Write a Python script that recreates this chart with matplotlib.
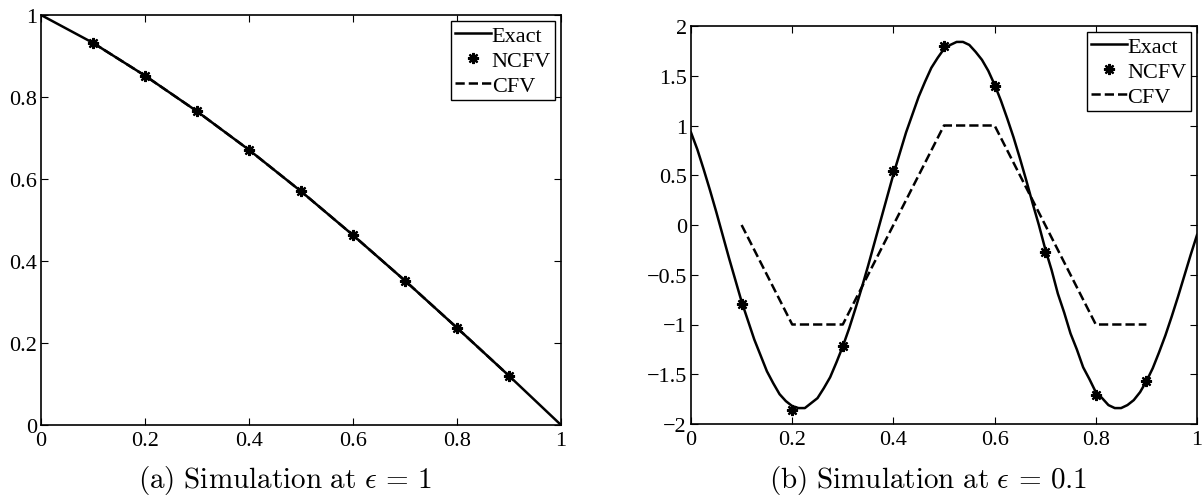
import numpy as np
import matplotlib
matplotlib.use("Agg")
import matplotlib.pyplot as plt

plt.rcParams['font.family'] = ['Liberation Serif', 'DejaVu Serif']
plt.rcParams['mathtext.fontset'] = 'cm'

# ---- panel (a): epsilon = 1 ----
xa_exact = [0.0, 0.1, 0.2, 0.3, 0.4, 0.5, 0.6, 0.7, 0.8, 0.9, 1.0]
ya_exact = [1.0, 0.932, 0.852, 0.765, 0.671, 0.570, 0.463, 0.352, 0.237, 0.120, 0.0]
xa_nodes = [0.1, 0.2, 0.3, 0.4, 0.5, 0.6, 0.7, 0.8, 0.9]
ya_ncfv = [0.932, 0.852, 0.765, 0.671, 0.570, 0.463, 0.352, 0.237, 0.120]
ya_cfv = [0.932, 0.852, 0.765, 0.671, 0.570, 0.463, 0.352, 0.237, 0.120]

# ---- panel (b): epsilon = 0.1 ----
xb_exact = [0.0, 0.0125, 0.025, 0.0375, 0.05, 0.0625, 0.075, 0.0875,
            0.1, 0.1125, 0.125, 0.1375, 0.15, 0.1625, 0.175, 0.1875,
            0.2, 0.2125, 0.225, 0.2375, 0.25, 0.2625, 0.275, 0.2875,
            0.3, 0.3125, 0.325, 0.3375, 0.35, 0.3625, 0.375, 0.3875,
            0.4, 0.4125, 0.425, 0.4375, 0.45, 0.4625, 0.475, 0.4875,
            0.5, 0.5125, 0.525, 0.5375, 0.55, 0.5625, 0.575, 0.5875,
            0.6, 0.6125, 0.625, 0.6375, 0.65, 0.6625, 0.675, 0.6875,
            0.7, 0.7125, 0.725, 0.7375, 0.75, 0.7625, 0.775, 0.7875,
            0.8, 0.8125, 0.825, 0.8375, 0.85, 0.8625, 0.875, 0.8875,
            0.9, 0.9125, 0.925, 0.9375, 0.95, 0.9625, 0.975, 0.9875, 1.0]
yb_exact = [0.93, 0.76, 0.56, 0.35, 0.13, -0.10, -0.33, -0.55,
            -0.77, -0.96, -1.15, -1.31, -1.47, -1.59, -1.70, -1.77,
            -1.82, -1.84, -1.84, -1.79, -1.74, -1.64, -1.53, -1.38,
            -1.22, -1.04, -0.84, -0.63, -0.41, -0.18, 0.05, 0.28,
            0.51, 0.72, 0.93, 1.11, 1.29, 1.44, 1.58, 1.68,
            1.77, 1.81, 1.84, 1.84, 1.81, 1.74, 1.66, 1.55,
            1.41, 1.25, 1.07, 0.88, 0.67, 0.45, 0.22, 0.0,
            -0.24, -0.45, -0.69, -0.88, -1.09, -1.25, -1.43, -1.55,
            -1.68, -1.74, -1.81, -1.84, -1.84, -1.81, -1.76, -1.68,
            -1.57, -1.44, -1.28, -1.11, -0.92, -0.72, -0.51, -0.30, -0.10]
xb_nodes = [0.1, 0.2, 0.3, 0.4, 0.5, 0.6, 0.7, 0.8, 0.9]
yb_ncfv = [-0.79, -1.86, -1.22, 0.54, 1.80, 1.40, -0.27, -1.71, -1.57]
yb_cfv = [0.0, -1.0, -1.0, 0.0, 1.0, 1.0, 0.0, -1.0, -1.0]

star = (8, 2, 0)

fig = plt.figure(figsize=(12.04, 5.02), dpi=100)
ax1 = fig.add_axes([41/1204, 1-426/502, 520/1204, 410/502])
ax2 = fig.add_axes([691/1204, 1-425/502, 506/1204, 398/502])


def style(ax, yticks, ylabels):
    ax.set_xlim(0, 1)
    ax.set_xticks([0, 0.2, 0.4, 0.6, 0.8, 1])
    ax.set_xticklabels(["0", "0.2", "0.4", "0.6", "0.8", "1"])
    ax.set_yticks(yticks)
    ax.set_yticklabels(ylabels)
    ax.tick_params(direction='in', top=True, right=True, length=5, width=0.8,
                   labelsize=16)
    ax.tick_params(axis='x', pad=4)
    ax.tick_params(axis='y', pad=3)
    for s in ax.spines.values():
        s.set_linewidth(1.2)
    leg = ax.legend(loc='upper right', fontsize=16, frameon=True, fancybox=False,
                    edgecolor='black', framealpha=1, borderpad=0.2,
                    labelspacing=0.2, handlelength=1.6, handletextpad=0.05,
                    borderaxespad=0.25)
    leg.get_frame().set_linewidth(1.0)


ax1.plot(xa_nodes, ya_cfv, 'k--', lw=1.8, label='_nolegend_')
ax1.plot(xa_exact, ya_exact, 'k-', lw=1.8, label='Exact')
ax1.plot(xa_nodes, ya_ncfv, 'k', ls='none', marker=star, ms=8, mew=1.6, label='NCFV')
ax1.plot([], [], 'k--', lw=1.8, label='CFV')
ax1.set_ylim(0, 1)
style(ax1, [0, 0.2, 0.4, 0.6, 0.8, 1], ["0", "0.2", "0.4", "0.6", "0.8", "1"])

ax2.plot(xb_exact, yb_exact, 'k-', lw=1.8, label='Exact')
ax2.plot(xb_nodes, yb_ncfv, 'k', ls='none', marker=star, ms=8, mew=1.6, label='NCFV')
ax2.plot(xb_nodes, yb_cfv, 'k--', lw=1.8, label='CFV')
ax2.set_ylim(-2, 2)
yt = [-2, -1.5, -1, -0.5, 0, 0.5, 1, 1.5, 2]
style(ax2, yt, ["\u22122", "\u22121.5", "\u22121", "\u22120.5", "0", "0.5", "1", "1.5", "2"])

fig.text(285/1204, 1-481/502, r"$\mathrm{(a)\ Simulation\ at\ }\epsilon\,=\,1$",
         ha='center', va='center', fontsize=21)
fig.text(928/1204, 1-481/502, r"$\mathrm{(b)\ Simulation\ at\ }\epsilon\,=\,0.1$",
         ha='center', va='center', fontsize=21)

fig.savefig("out.png", dpi=100)
